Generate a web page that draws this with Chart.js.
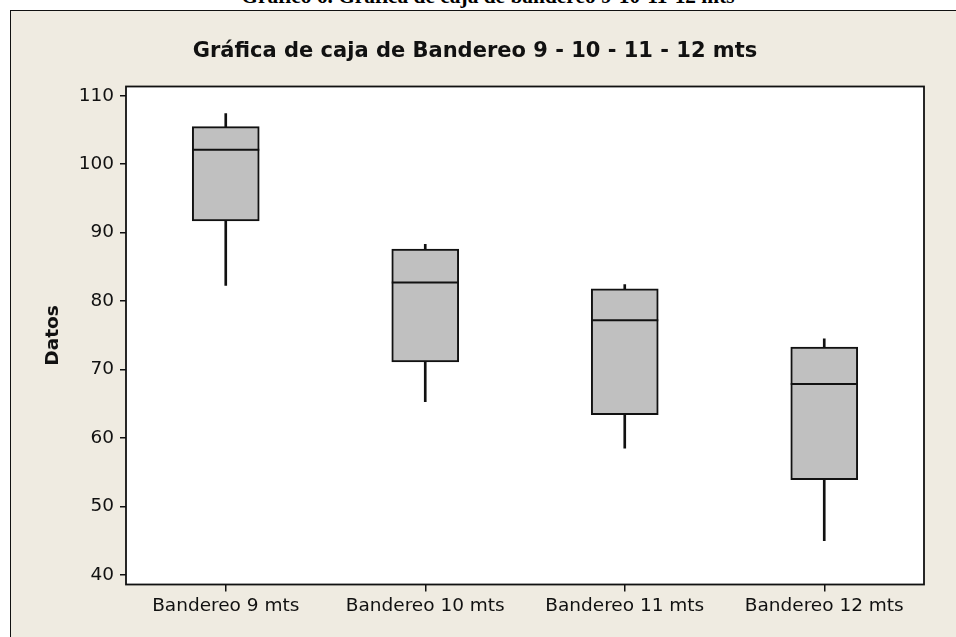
<!DOCTYPE html>
<html><head><meta charset="utf-8">
<script src="https://cdn.jsdelivr.net/npm/chart.js@4/dist/chart.umd.min.js"></script>
<style>
html,body{margin:0;padding:0;background:#fff;width:956px;height:637px;overflow:hidden;position:relative}
#frame{position:absolute;left:10px;top:10px;width:960px;height:640px;background:#EFEBE1;border-left:1.5px solid #111;border-top:1.5px solid #111;}
#cap{position:absolute;top:-13.7px;left:0;width:976px;text-align:center;font:bold 21.4px "Liberation Serif","Times New Roman",serif;line-height:21px;white-space:nowrap;color:#000}
#wrap{position:absolute;left:0;top:0;width:956px;height:637px}
</style></head>
<body>
<div id="frame"></div>
<div id="cap">Gráfico 6. Gráfica de caja de bandereo 9-10-11-12 mts</div>
<div id="wrap"><canvas id="c" width="956" height="637"></canvas></div>
<script>
const categories = ["Bandereo 9 mts", "Bandereo 10 mts", "Bandereo 11 mts", "Bandereo 12 mts"];
const whiskerLow  = [82.3, 65.3, 58.5, 45.0];
const q1          = [91.7, 71.1, 63.4, 53.9];
const median      = [102.1, 82.7, 77.2, 67.9];
const q3          = [105.5, 87.6, 81.8, 73.3];
const whiskerHigh = [107.4, 88.3, 82.4, 74.5];
const yTicks = [40, 50, 60, 70, 80, 90, 100, 110];

const INK = '#111111';

const framePlugin = {
  id: 'framePlugin',
  beforeDatasetsDraw(chart) {
    const {ctx, chartArea: a} = chart;
    ctx.save();
    ctx.fillStyle = '#FFFFFF';
    ctx.fillRect(a.left, a.top, a.right - a.left, a.bottom - a.top);
    ctx.restore();
  },
  afterDatasetsDraw(chart) {
    const {ctx, chartArea: a} = chart;
    const yScale = chart.scales.y;
    const meta = chart.getDatasetMeta(1);
    ctx.save();
    ctx.strokeStyle = INK;
    ctx.lineWidth = 2;
    meta.data.forEach((bar, i) => {
      const y = yScale.getPixelForValue(median[i]);
      const w = bar.width;
      ctx.beginPath();
      ctx.moveTo(bar.x - w / 2, y);
      ctx.lineTo(bar.x + w / 2, y);
      ctx.stroke();
    });
    ctx.lineWidth = 1.8;
    ctx.strokeRect(a.left, a.top, a.right - a.left, a.bottom - a.top);
    ctx.restore();
  }
};

new Chart(document.getElementById('c'), {
  type: 'bar',
  data: {
    labels: categories,
    datasets: [
      {
        label: 'Bigotes',
        data: categories.map((c, i) => [whiskerLow[i], whiskerHigh[i]]),
        backgroundColor: INK,
        borderWidth: 0,
        barThickness: 2,
        grouped: false,
        order: 2
      },
      {
        label: 'Caja',
        data: categories.map((c, i) => [q1[i], q3[i]]),
        backgroundColor: '#C0C0C0',
        borderColor: INK,
        borderWidth: 2,
        borderSkipped: false,
        barThickness: 67,
        grouped: false,
        order: 1
      }
    ]
  },
  options: {
    responsive: false,
    animation: false,
    devicePixelRatio: 1,
    layout: { padding: { left: 26, right: 32, top: 0, bottom: 0 } },
    plugins: {
      legend: { display: false },
      tooltip: { enabled: false },
      title: {
        display: true,
        text: 'Gráfica de caja de Bandereo 9 - 10 - 11 - 12 mts',
        color: INK,
        font: { family: 'DejaVu Sans', size: 21, weight: 'bold', lineHeight: 1.2 },
        padding: { top: 39, bottom: 22.3 }
      }
    },
    scales: {
      x: {
        offset: true,
        border: { display: false },
        grid: { display: true, offset: false, drawOnChartArea: false, drawTicks: true, tickLength: 7, color: INK, lineWidth: 1.5 },
        ticks: { color: INK, font: { family: 'DejaVu Sans', size: 18.5 }, padding: 4, maxRotation: 0 },
        afterFit(scale) { scale.height = 52.5; }
      },
      y: {
        min: 38.6,
        max: 111.35,
        border: { display: false },
        grid: { display: true, drawOnChartArea: false, drawTicks: true, tickLength: 6, color: INK, lineWidth: 1.5 },
        ticks: { color: INK, font: { family: 'DejaVu Sans', size: 18.5 }, padding: 6 },
        afterBuildTicks(scale) { scale.ticks = yTicks.map(v => ({ value: v })); },
        afterFit(scale) { scale.width = 100; },
        title: {
          display: true,
          text: 'Datos',
          color: INK,
          font: { family: 'DejaVu Sans', size: 18.5, weight: 'bold', lineHeight: 1.2 },
          padding: { top: 16, bottom: 0 }
        }
      }
    }
  },
  plugins: [framePlugin]
});
</script>
</body></html>
